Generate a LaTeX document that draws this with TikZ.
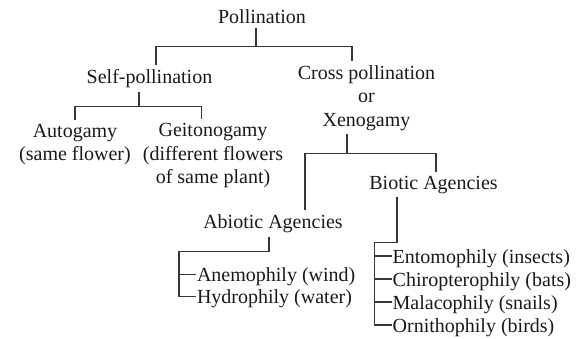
\documentclass[tikz,border=0pt]{standalone}
\usepackage{fontspec}
\setmainfont{Liberation Serif}
\usetikzlibrary{positioning}
\definecolor{inkgray}{RGB}{25,25,25}
\definecolor{linegray}{RGB}{55,55,55}

\begin{document}
\begin{tikzpicture}[
    x=1pt, y=-1pt,
    font=\fontsize{20}{23.5}\selectfont,
    term/.style={inner sep=0pt, outer sep=4pt, align=center, text=inkgray},
    leaf/.style={inner sep=0pt, outer sep=1pt, anchor=base west, text height=14pt, text depth=0pt, text=inkgray},
    branch/.style={draw=linegray, line width=1.3pt}
]
\useasboundingbox (0,0) rectangle (577,339);

% Level 1
\node[term, anchor=base] (poll) at (262,24) {Pollination};

% Level 2
\node[term, anchor=base] (self) at (149.5,83.3) {Self-pollination};
\node[term, anchor=north] (cross) at (366.5,61.3) {Cross pollination\\or\\Xenogamy};

\draw[branch] ([xshift=-6pt]poll.south) -- ++(0,18) coordinate (pbar);
\draw[branch] ([xshift=6.5pt]self.north) |- (pbar) -| ([xshift=-14.5pt]cross.north);

% Self-pollination
\node[term, anchor=north] (auto) at (75,119.8) {Autogamy\\(same flower)};
\node[term, anchor=north] (geito) at (213,119.5) {Geitonogamy\\(different flowers\\of same plant)};

\draw[branch] ([xshift=-10.5pt]self.south) -- ++(0,15) coordinate (sbar);
\draw[branch] (auto.north) |- (sbar) -| ([xshift=-11.5pt]geito.north);

% Cross pollination
\node[term, anchor=base] (bio) at (433.5,189) {Biotic Agencies};
\node[term, anchor=base] (abio) at (273,228.3) {Abiotic Agencies};

\draw[branch] ([xshift=-19.5pt]cross.south) -- ++(0,19) coordinate (xbar);
\draw[branch] ([xshift=32pt]abio.north) |- (xbar) -| ([xshift=2.5pt]bio.north);

% Abiotic agencies
\node[leaf] (anemo) at (196,281.5) {Anemophily (wind)};
\node[leaf] (hydro) at (196,303.5) {Hydrophily (water)};

\draw[branch] ([xshift=-4pt]abio.south) -- ++(0,15) -| ([xshift=-17pt]hydro.west) -- (hydro.west);
\draw[branch] ([xshift=-17pt]anemo.west) -- (anemo.west);

% Biotic agencies
\node[leaf] (ento) at (391.7,263) {Entomophily (insects)};
\node[leaf] (chiro) at (391.7,286) {Chiropterophily (bats)};
\node[leaf] (mala) at (391.7,309) {Malacophily (snails)};
\node[leaf] (orni) at (391.7,332) {Ornithophily (birds)};

\draw[branch] ([xshift=-36.5pt]bio.south) -- ++(0,45) -| ([xshift=-17pt]orni.west) -- (orni.west);
\draw[branch] ([xshift=-17pt]ento.west) -- (ento.west);
\draw[branch] ([xshift=-17pt]chiro.west) -- (chiro.west);
\draw[branch] ([xshift=-17pt]mala.west) -- (mala.west);

\end{tikzpicture}
\end{document}
